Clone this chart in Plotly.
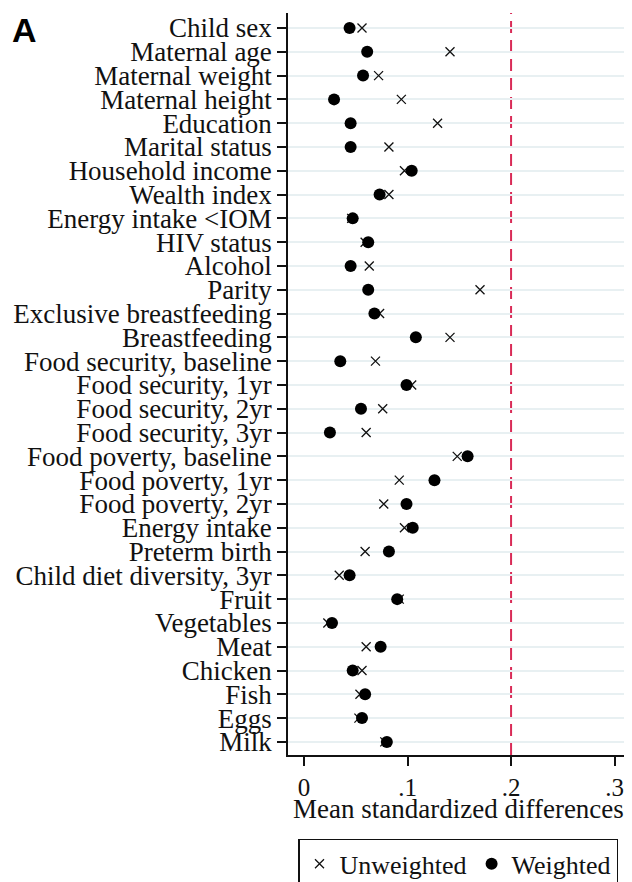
import plotly.graph_objects as go

categories = [
    "Child sex", "Maternal age", "Maternal weight", "Maternal height", "Education",
    "Marital status", "Household income", "Wealth index", "Energy intake <IOM",
    "HIV status", "Alcohol", "Parity", "Exclusive breastfeeding", "Breastfeeding",
    "Food security, baseline", "Food security, 1yr", "Food security, 2yr",
    "Food security, 3yr", "Food poverty, baseline", "Food poverty, 1yr",
    "Food poverty, 2yr", "Energy intake", "Preterm birth",
    "Child diet diversity, 3yr", "Fruit", "Vegetables", "Meat", "Chicken",
    "Fish", "Eggs", "Milk",
]

unweighted = [
    0.056, 0.141, 0.072, 0.094, 0.129, 0.082, 0.097, 0.082, 0.046, 0.059,
    0.063, 0.170, 0.073, 0.141, 0.069, 0.104, 0.076, 0.060, 0.148, 0.092,
    0.077, 0.097, 0.059, 0.034, 0.092, 0.023, 0.060, 0.056, 0.054, 0.053,
    0.078,
]

weighted = [
    0.044, 0.061, 0.057, 0.029, 0.045, 0.045, 0.104, 0.073, 0.047, 0.062,
    0.045, 0.062, 0.068, 0.108, 0.035, 0.099, 0.055, 0.025, 0.158, 0.126,
    0.099, 0.105, 0.082, 0.044, 0.090, 0.027, 0.074, 0.047, 0.059, 0.056,
    0.080,
]

threshold = 0.2
x_tickvals = [0, 0.1, 0.2, 0.3]
x_ticktext = ["0", ".1", ".2", ".3"]

SERIF = "Liberation Serif"
TXT = "#111111"
FS = 27

fig = go.Figure()
fig.add_trace(go.Scatter(
    x=unweighted, y=categories, mode="markers", name="Unweighted",
    marker=dict(symbol="x-thin-open", size=9, color="#111111",
                line=dict(width=1.3, color="#111111")),
))
fig.add_trace(go.Scatter(
    x=weighted, y=categories, mode="markers", name="Weighted",
    marker=dict(symbol="circle", size=12, color="#000000",
                line=dict(width=0)),
))

fig.add_vline(x=threshold, line=dict(color="#d92b57", width=2, dash="12px,7px"),
              layer="below")

# the page adds an 8px body margin, so the figure is 8px smaller than the window
fig.update_layout(
    width=624, height=874,
    margin=dict(l=280, r=5, t=5, b=127, autoexpand=False),
    paper_bgcolor="white", plot_bgcolor="white",
    font=dict(family=SERIF, size=FS, color=TXT),
    showlegend=True,
    legend=dict(
        orientation="h", x=0.0295, xanchor="left", y=-0.113, yanchor="top",
        bordercolor="#111111", borderwidth=1.5,
        font=dict(family=SERIF, size=26, color=TXT),
        itemsizing="trace", itemwidth=30,
    ),
    xaxis=dict(
        range=[-0.0155, 0.312], tickmode="array",
        tickvals=x_tickvals, ticktext=x_ticktext,
        ticks="outside", ticklen=9, tickwidth=1.5, tickcolor="#111111",
        ticklabelstandoff=0,
        showline=True, linecolor="#111111", linewidth=1.5,
        showgrid=False, zeroline=False, automargin=False,
        tickfont=dict(family=SERIF, size=25, color=TXT),
    ),
    yaxis=dict(
        type="category", categoryorder="array", categoryarray=categories,
        tickmode="array", tickvals=categories, ticktext=categories,
        range=[30.55, -0.63],
        ticks="outside", ticklen=9, tickwidth=1.5, tickcolor="#111111",
        showline=True, linecolor="#111111", linewidth=1.5,
        showgrid=True, gridcolor="#e8f0f2", gridwidth=2,
        zeroline=False, automargin=False,
        tickfont=dict(family=SERIF, size=FS, color=TXT),
    ),
    annotations=[
        dict(
            text="<b>A</b>", xref="paper", yref="paper",
            x=-0.82, y=0.977, xanchor="left", yanchor="middle",
            showarrow=False,
            font=dict(family="Liberation Sans", size=34, color="#000000"),
        ),
        dict(
            text="Mean standardized differences", xref="paper", yref="paper",
            x=0.503, y=-0.0725, xanchor="center", yanchor="middle",
            showarrow=False,
            font=dict(family=SERIF, size=FS, color=TXT),
        ),
    ],
)

fig.write_html("out.html")
